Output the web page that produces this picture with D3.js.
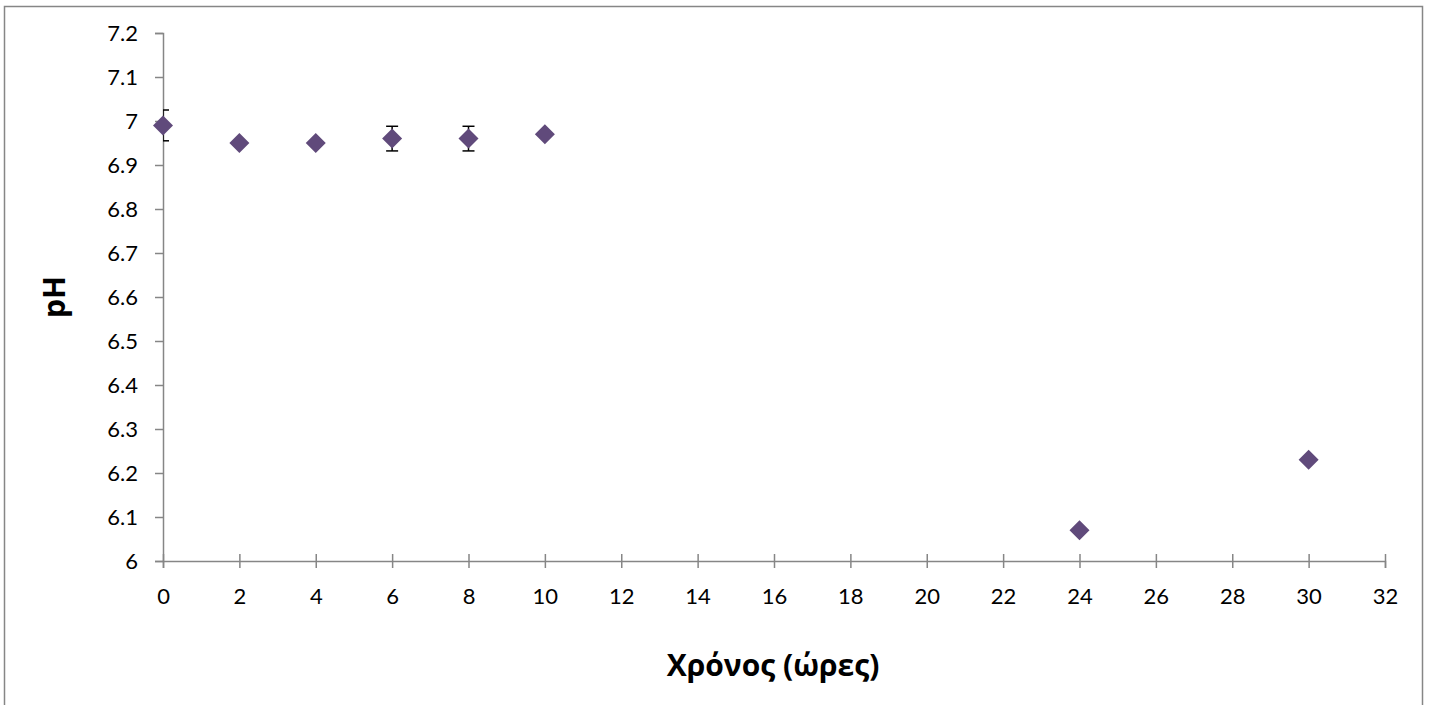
<!DOCTYPE html>
<html>
<head>
<meta charset="utf-8">
<script src="https://cdn.jsdelivr.net/npm/d3@7"></script>
<style>
  html, body { margin: 0; padding: 0; background: #fff; }
  svg text { font-family: Lato, "Open Sans", sans-serif; fill: #000; }
  svg text.title { font-family: "Open Sans", Lato, sans-serif; font-weight: bold; }
</style>
</head>
<body>
<div id="chart"></div>
<script>
// data
var hours = [0, 2, 4, 6, 8, 10, 24, 30],
    phValues = [6.99, 6.95, 6.95, 6.96, 6.96, 6.97, 6.07, 6.23],
    phErrors = [0.035, 0, 0, 0.028, 0.028, 0, 0, 0],
    xTicks = [0, 2, 4, 6, 8, 10, 12, 14, 16, 18, 20, 22, 24, 26, 28, 30, 32],
    yTicks = [6, 6.1, 6.2, 6.3, 6.4, 6.5, 6.6, 6.7, 6.8, 6.9, 7, 7.1, 7.2],
    xTitle = "Χρόνος (ώρες)",
    yTitle = "pH";

var W = 1432, H = 705,
    margin = {top: 33, right: 47, bottom: 144, left: 163},
    width = W - margin.left - margin.right,
    height = H - margin.top - margin.bottom,
    axisColor = "#868686",
    markColor = "#604a7b";

var svg = d3.select("#chart").append("svg")
    .attr("width", W)
    .attr("height", H);

// outer chart frame
svg.append("rect")
    .attr("x", 4.5).attr("y", 6.5)
    .attr("width", 1418).attr("height", 705)
    .attr("fill", "none")
    .attr("stroke", axisColor)
    .attr("stroke-width", 1.5);

var g = svg.append("g")
    .attr("transform", "translate(" + margin.left + "," + margin.top + ")");

var x = d3.scaleLinear().domain([0, 32]).range([0, width]);
var y = d3.scaleLinear().domain([6, 7.2]).range([height, 0]);

g.append("clipPath").attr("id", "plot-clip")
  .append("rect").attr("width", width).attr("height", height);

// y axis
var yAxis = g.append("g")
    .call(d3.axisLeft(y).tickValues(yTicks).tickSize(8).tickPadding(17)
        .tickFormat(function (d) { return d3.format("")(+d.toFixed(1)); }));
yAxis.select(".domain").attr("stroke", axisColor).attr("stroke-width", 1.5);
yAxis.selectAll(".tick line").attr("stroke", axisColor).attr("stroke-width", 1.5);
yAxis.selectAll(".tick text").style("font-size", "22px");

// x axis, ticks cross the line
var xAxis = g.append("g")
    .attr("transform", "translate(0," + height + ")")
    .call(d3.axisBottom(x).tickValues(xTicks).tickSizeOuter(0).tickSize(7).tickPadding(20));
xAxis.select(".domain").attr("stroke", axisColor).attr("stroke-width", 1.5);
xAxis.selectAll(".tick line").attr("y1", -7).attr("stroke", axisColor).attr("stroke-width", 1.5);
xAxis.selectAll(".tick text").style("font-size", "22px");

// error bars
var pts = hours.map(function (h, i) { return {x: h, y: phValues[i], e: phErrors[i]}; });
var eb = g.append("g").attr("clip-path", "url(#plot-clip)")
    .selectAll("g.err").data(pts.filter(function (d) { return d.e > 0; }))
    .enter().append("g").attr("class", "err")
    .attr("stroke", "#000").attr("stroke-width", 1.5);
eb.append("line")
    .attr("x1", function (d) { return x(d.x); }).attr("x2", function (d) { return x(d.x); })
    .attr("y1", function (d) { return y(d.y + d.e); }).attr("y2", function (d) { return y(d.y - d.e); });
eb.append("line")
    .attr("x1", function (d) { return x(d.x) - 6; }).attr("x2", function (d) { return x(d.x) + 6; })
    .attr("y1", function (d) { return y(d.y + d.e); }).attr("y2", function (d) { return y(d.y + d.e); });
eb.append("line")
    .attr("x1", function (d) { return x(d.x) - 6; }).attr("x2", function (d) { return x(d.x) + 6; })
    .attr("y1", function (d) { return y(d.y - d.e); }).attr("y2", function (d) { return y(d.y - d.e); });

// diamond markers
g.selectAll("path.pt").data(pts)
    .enter().append("path").attr("class", "pt")
    .attr("d", "M0,-10L10,0L0,10L-10,0Z")
    .attr("fill", markColor)
    .attr("transform", function (d) { return "translate(" + x(d.x) + "," + y(d.y) + ")"; });

// axis titles
svg.append("text").attr("class", "title")
    .attr("x", 773).attr("y", 676)
    .attr("text-anchor", "middle")
    .style("font-size", "30px")
    .text(xTitle);

svg.append("text").attr("class", "title")
    .attr("transform", "translate(65," + 297 + ") rotate(-90)")
    .attr("text-anchor", "middle")
    .style("font-size", "30px")
    .text(yTitle);
</script>
</body>
</html>
